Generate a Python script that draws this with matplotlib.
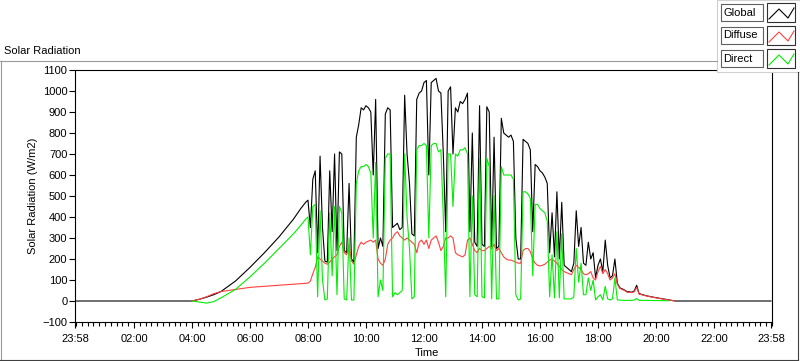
import numpy as np
import matplotlib.pyplot as plt
from matplotlib.patches import Rectangle
from matplotlib.lines import Line2D

plt.rcParams['font.family'] = ['Liberation Sans', 'DejaVu Sans']

W, H = 800, 361

# =============================================================================
# # Data (W/m2), times in hours; 23:58 of previous day = -2 min
# =============================================================================
t_morning = [-2/60, 4.0, 4.25, 4.5, 4.75, 5.0, 5.5, 6.0, 6.5, 7.0, 7.5, 7.75, 7.92]
global_morning = [0, 0, 8, 18, 30, 45, 95, 160, 230, 305, 390, 440, 470]
# diffuse / direct sensors only log from 04:00
t_morning_sun = [4.0, 4.25, 4.5, 4.75, 5.0, 5.5, 6.0, 6.5, 7.0, 7.5, 7.75, 7.92]
diffuse_morning = [0, 8, 20, 35, 45, 55, 65, 70, 75, 80, 82, 84]
direct_morning = [0, -5, -10, -3, 15, 55, 115, 180, 250, 320, 360, 390]

# 5 minute readings 08:00 .. 19:00
t_day = np.arange(8 * 60, 19 * 60 + 1, 5) / 60
global_day = [
    480, 350, 580, 620, 230, 690, 350, 190, 185, 620, 330, 700,
    240, 710, 700, 240, 230, 560, 200, 185, 780, 840, 920, 910,
    930, 920, 900, 600, 960, 250, 300, 260, 890, 920, 910, 350,
    360, 370, 340, 350, 980, 700, 560, 320, 310, 960, 990, 1000,
    1040, 1050, 600, 1040, 1050, 1060, 1000, 990, 700, 330, 1000, 1020,
    700, 920, 900, 950, 940, 960, 990, 330, 800, 280, 260, 930,
    270, 260, 925, 900, 260, 780, 250, 260, 870, 800, 790, 780,
    790, 760, 300, 200, 200, 770, 760, 750, 720, 330, 650, 640,
    620, 610, 590, 560, 230, 420, 210, 520, 200, 470, 170, 160,
    150, 140, 180, 430, 260, 350, 180, 170, 280, 200, 230, 110,
    170, 200, 140, 290, 170, 110, 120, 200, 85, 63, 58, 52,
    45]
diffuse_day = [
    85, 95, 130, 160, 210, 200, 190, 180, 175, 185, 200, 210,
    220, 260, 280, 230, 220, 270, 190, 175, 220, 260, 280, 270,
    280, 285, 290, 280, 290, 200, 180, 170, 200, 270, 290, 300,
    320, 330, 310, 300, 290, 300, 290, 280, 270, 230, 280, 290,
    270, 290, 250, 290, 300, 310, 280, 240, 260, 300, 300, 310,
    300, 230, 220, 215, 210, 220, 290, 300, 270, 240, 230, 250,
    240, 240, 250, 260, 250, 270, 240, 250, 230, 210, 200, 195,
    195, 190, 185, 180, 180, 240, 250, 250, 235, 200, 180, 170,
    167, 170, 175, 185, 195, 200, 190, 180, 165, 150, 140, 135,
    130, 125, 150, 170, 160, 150, 130, 125, 130, 140, 110, 100,
    140, 165, 130, 150, 130, 100, 110, 130, 80, 60, 55, 50,
    42]
direct_day = [
    400, 220, 450, 460, 20, 430, 100, 5, 10, 420, 120, 450,
    30, 450, 420, 10, 5, 300, 5, 5, 560, 620, 640, 640,
    650, 640, 610, 300, 660, 20, 100, 50, 680, 700, 700, 20,
    40, 30, 40, 50, 700, 400, 250, 10, 20, 720, 740, 740,
    750, 740, 300, 740, 750, 750, 710, 720, 400, 20, 700, 700,
    450, 700, 690, 720, 720, 730, 700, 20, 500, 30, 20, 680,
    20, 15, 680, 640, 10, 500, 10, 10, 640, 600, 600, 600,
    600, 580, 30, 5, 10, 520, 520, 510, 490, 120, 460, 460,
    440, 430, 420, 380, 20, 220, 15, 330, 15, 320, 10, 10,
    10, 10, 20, 250, 90, 180, 30, 30, 110, 50, 100, 5,
    20, 30, 5, 70, 10, 5, 10, 110, 5, 5, 3, 3,
    3]

t_evening = [19 + 10/60, 19.25, 19 + 20/60, 19 + 25/60, 19 + 40/60, 19 + 55/60,
             20 + 10/60, 20 + 25/60, 20 + 40/60, 24 - 2/60]
global_evening = [42, 48, 75, 35, 25, 18, 12, 6, 0, 0]
t_evening_diffuse = t_evening[:9]
diffuse_evening = [40, 44, 65, 33, 24, 17, 11, 5, 0]
t_evening_direct = t_evening[:8]
direct_evening = [3, 5, 12, 3, 3, 2, 2, 1]

tick_hours = [-2/60, 2, 4, 6, 8, 10, 12, 14, 16, 18, 20, 22, 24 - 2/60]
tick_labels = ['23:58', '02:00', '04:00', '06:00', '08:00', '10:00', '12:00',
               '14:00', '16:00', '18:00', '20:00', '22:00', '23:58']
series_names = ['Global', 'Diffuse', 'Direct']
series_colors = ['black', '#ff4040', '#00ee00']

t_glob = np.concatenate([t_morning, t_day, t_evening])
glob = np.concatenate([global_morning, global_day, global_evening])
t_diff = np.concatenate([t_morning_sun, t_day, t_evening_diffuse])
diff = np.concatenate([diffuse_morning, diffuse_day, diffuse_evening])
t_dirc = np.concatenate([t_morning_sun, t_day, t_evening_direct])
dirc = np.concatenate([direct_morning, direct_day, direct_evening])


def fx(x):
    return x / W


def fy(y):
    return 1 - y / H


# =============================================================================
# # Figure
# =============================================================================
fig = plt.figure(figsize=(8, 3.61), dpi=100)
fig.patch.set_facecolor('white')

ax = fig.add_axes([fx(75), fy(322), 697 / W, 252 / H])
for tt, vals, c in zip([t_glob, t_diff, t_dirc], [glob, diff, dirc], series_colors):
    ax.plot(tt, vals, color=c, lw=0.8)

ax.set_xlim(-2/60, 24 - 2/60)
ax.set_ylim(-100, 1100)
ax.set_yticks(range(-100, 1101, 100))
ax.set_xticks(tick_hours)
ax.set_xticklabels(tick_labels)
ax.set_xticks(np.arange(0, 24.01, 0.2), minor=True)
ax.tick_params(axis='y', direction='out', length=4.5, width=0.8, labelsize=8, pad=1)
ax.tick_params(axis='x', which='major', direction='out', length=4, width=0.8,
               labelsize=8, pad=5)
ax.tick_params(axis='x', which='minor', direction='out', length=3, width=0.8)
for s in ax.spines.values():
    s.set_linewidth(0.8)

fig.text(fx(33), fy(196), 'Solar Radiation (W/m2)', rotation=90,
         ha='center', va='center', fontsize=8)
fig.text(fx(427), fy(353), 'Time', ha='center', va='center', fontsize=8)
fig.text(fx(4), fy(51), 'Solar Radiation', ha='left', va='center', fontsize=8)

# outer frame
frame_col = '#9a9a9a'
fig.add_artist(Line2D([fx(0.5), fx(0.5)], [fy(61), fy(359.5)], color=frame_col, lw=0.8))
fig.add_artist(Line2D([fx(0), fx(717)], [fy(61), fy(61)], color=frame_col, lw=0.8))
fig.add_artist(Line2D([fx(0), fx(798)], [fy(359.5), fy(359.5)], color='#404040', lw=0.8))
fig.add_artist(Line2D([fx(797.5), fx(797.5)], [fy(72), fy(359.5)], color='#404040', lw=0.8))

# legend panel
fig.add_artist(Rectangle((fx(717), fy(72)), 83 / W, 72 / H, transform=fig.transFigure,
                         fc='white', ec='#d0d0d0', lw=0.8))
rows = [(4, 21), (27, 44), (50, 67)]
for (y0, y1), name, c in zip(rows, series_names, series_colors):
    fig.add_artist(Rectangle((fx(721), fy(y1)), 42 / W, (y1 - y0) / H,
                             transform=fig.transFigure, fc='white', ec='#606060', lw=0.8))
    fig.text(fx(723), fy((y0 + y1) / 2), name, ha='left', va='center', fontsize=8)
    fig.add_artist(Rectangle((fx(767), fy(y1 + 1)), 28 / W, (y1 - y0 + 2) / H,
                             transform=fig.transFigure, fc='white', ec='#303030', lw=0.8))
    zx = [769, 779, 788, 794]
    zy = [y0 + 15, y0 + 5, y0 + 14, y0 + 4]
    fig.add_artist(Line2D([fx(v) for v in zx], [fy(v) for v in zy], color=c, lw=0.8))

fig.savefig('out.png', dpi=100)
